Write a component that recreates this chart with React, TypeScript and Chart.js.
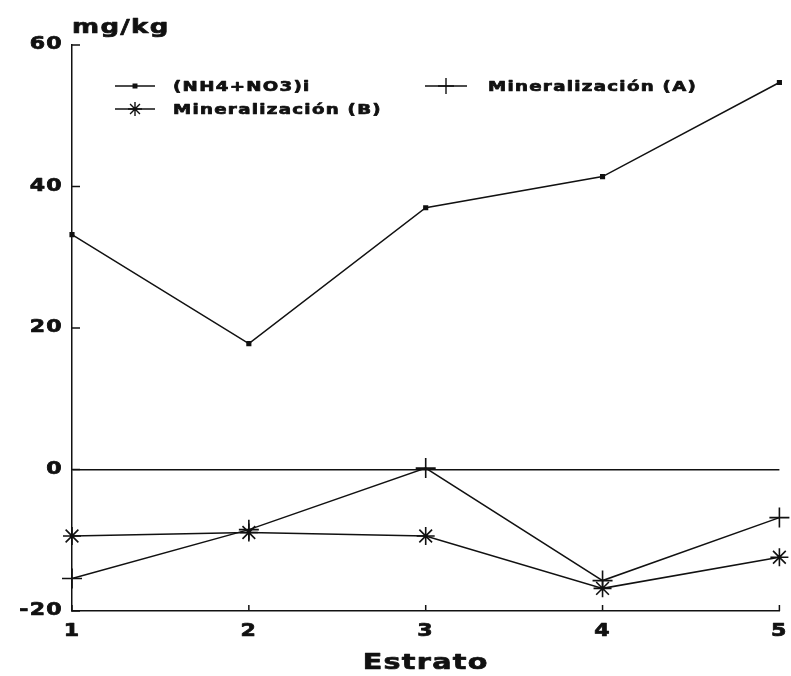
import React, { useEffect, useRef } from 'react';
import { Chart, registerables } from 'chart.js';
import { drawPoint } from 'chart.js/helpers';

Chart.register(...registerables);

const strata = [1, 2, 3, 4, 5];
const nh4no3 = [33.2, 17.8, 37.0, 41.4, 54.7];
const minA = [-15.4, -8.5, 0.2, -15.7, -6.8];
const minB = [-9.4, -8.9, -9.4, -16.8, -12.4];
const yTicks = [60, 40, 20, 0, -20];
const seriesLabels = ['(NH4+NO3)i', 'Mineralización (A)', 'Mineralización (B)'];
const yUnit = 'mg/kg';
const xTitle = 'Estrato';

const FONT = "'DejaVu Sans', 'Liberation Sans', sans-serif";
const INK = '#111';
const STRETCH = 1.3;

const legendSlots = [
  { dx: 43, dy: 41, len: 40, tx: 58 },
  { dx: 353, dy: 41, len: 42, tx: 63 },
  { dx: 43, dy: 64, len: 40, tx: 58 },
];

const customPlugin = {
  id: 'custom',
  beforeDraw(chart: any) {
    chart.ctx.letterSpacing = '1px';
  },
  afterDraw(chart: any) {
    const { ctx, chartArea, scales } = chart;
    ctx.save();
    ctx.strokeStyle = INK;
    ctx.lineWidth = 1.5;
    yTicks.forEach((v) => {
      const y = scales.y.getPixelForValue(v);
      ctx.beginPath();
      ctx.moveTo(chartArea.left, y);
      ctx.lineTo(chartArea.left + 8, y);
      ctx.stroke();
    });
    strata.forEach((v) => {
      const x = scales.x.getPixelForValue(v);
      ctx.beginPath();
      ctx.moveTo(x, chartArea.bottom);
      ctx.lineTo(x, chartArea.bottom - 6);
      ctx.stroke();
    });
    ctx.fillStyle = INK;
    ctx.letterSpacing = '1px';
    ctx.font = `bold 20px ${FONT}`;
    ctx.textAlign = 'left';
    ctx.textBaseline = 'alphabetic';
    ctx.fillText(yUnit, chartArea.left, chartArea.top - 12);
    ctx.letterSpacing = '1px';
    ctx.font = `bold 14px ${FONT}`;
    ctx.textBaseline = 'middle';
    chart.data.datasets.forEach((ds: any, i: number) => {
      const s = legendSlots[i];
      const x0 = chartArea.left + s.dx;
      const y0 = chartArea.top + s.dy;
      ctx.strokeStyle = INK;
      ctx.lineWidth = 1.4;
      ctx.beginPath();
      ctx.moveTo(x0, y0);
      ctx.lineTo(x0 + s.len, y0);
      ctx.stroke();
      drawPoint(ctx, {
        pointStyle: ds.pointStyle,
        radius: ds.pointStyle === 'rect' ? ds.pointRadius : ds.pointRadius - 2,
        rotation: 0,
        borderWidth: ds.pointBorderWidth,
      }, x0 + s.len / 2, y0);
      ctx.fillStyle = INK;
      ctx.fillText(ds.label, x0 + s.tx, y0 + 1);
    });
    ctx.restore();
  },
};

function stretchText(ctx: any) {
  const orig = ctx.fillText.bind(ctx);
  const origStroke = ctx.strokeText.bind(ctx);
  ctx.fillText = function (text: string, x: number, y: number, maxWidth?: number) {
    ctx.save();
    ctx.translate(x, y);
    ctx.scale(STRETCH, 1);
    if (maxWidth !== undefined && maxWidth !== null) orig(text, 0, 0, maxWidth / STRETCH);
    else orig(text, 0, 0);
    ctx.strokeStyle = ctx.fillStyle;
    ctx.lineWidth = 0.7;
    ctx.lineJoin = 'round';
    origStroke(text, 0, 0);
    ctx.restore();
  };
}

export default function App() {
  const ref = useRef<HTMLCanvasElement>(null);
  useEffect(() => {
    document.body.style.margin = '0';
    const ctx = ref.current!.getContext('2d')!;
    stretchText(ctx);
    const mk = (ys: number[]) => strata.map((x, i) => ({ x, y: ys[i] }));
    const base = {
      borderColor: INK,
      backgroundColor: INK,
      pointBorderColor: INK,
      pointBackgroundColor: INK,
      borderWidth: 1.5,
      pointBorderWidth: 1.6,
      fill: false,
      tension: 0,
      clip: false,
    };
    const chart = new Chart(ctx, {
      type: 'line',
      data: {
        datasets: [
          { ...base, label: seriesLabels[0], data: mk(nh4no3), pointStyle: 'rect', pointRadius: 2.5 },
          { ...base, label: seriesLabels[1], data: mk(minA), pointStyle: 'cross', pointRadius: 10 },
          { ...base, label: seriesLabels[2], data: mk(minB), pointStyle: 'star', pointRadius: 9 },
        ],
      },
      options: {
        animation: false,
        responsive: false,
        maintainAspectRatio: false,
        layout: { padding: { top: 45, right: 11, left: 0, bottom: 0 } },
        plugins: { legend: { display: false }, tooltip: { enabled: false } },
        scales: {
          x: {
            type: 'linear',
            min: 1,
            max: 5,
            afterFit: (s: any) => { s.height = 65; s.paddingLeft = 0; s.paddingRight = 0; },
            ticks: { stepSize: 1, color: INK, padding: 10, font: { family: FONT, size: 17, weight: 'bold' } },
            grid: { display: false, drawTicks: false },
            border: { display: true, color: INK, width: 1.5 },
            title: { display: true, text: xTitle, color: INK, padding: { top: 4, bottom: 0 }, font: { family: FONT, size: 22, weight: 'bold' } },
          },
          y: {
            type: 'linear',
            min: -20,
            max: 60,
            afterFit: (s: any) => { s.width = 72; },
            afterBuildTicks: (s: any) => { s.ticks = yTicks.map((v) => ({ value: v })); },
            ticks: { color: INK, padding: 9, font: { family: FONT, size: 17, weight: 'bold' } },
            grid: {
              drawTicks: false,
              color: (c: any) => (c.tick && c.tick.value === 0 ? INK : 'rgba(0,0,0,0)'),
              lineWidth: 1.4,
            },
            border: { display: true, color: INK, width: 1.5 },
          },
        },
      },
      plugins: [customPlugin],
    } as any);
    return () => chart.destroy();
  }, []);
  return (
    <div style={{ width: 791, height: 676, position: 'relative' }}>
      <canvas ref={ref} width={791} height={676} style={{ display: 'block' }} />
    </div>
  );
}
